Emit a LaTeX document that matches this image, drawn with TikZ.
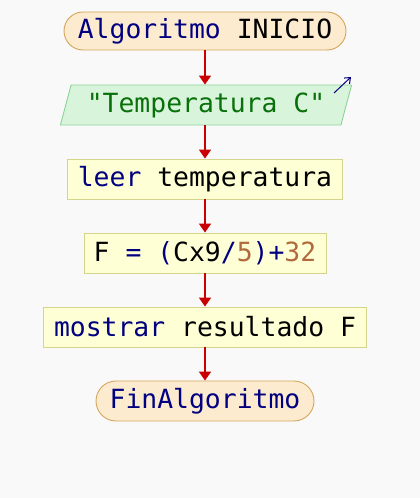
\documentclass[tikz,border=0pt]{standalone}
\usepackage{fontspec}
\setmonofont{DejaVu Sans Mono}
\usetikzlibrary{shapes.geometric,arrows.meta}
\definecolor{bgc}{HTML}{F9F9F9}
\definecolor{termfill}{HTML}{FDEBCF}
\definecolor{termdraw}{HTML}{D4A55A}
\definecolor{parafill}{HTML}{D8F5DC}
\definecolor{paradraw}{HTML}{8CD398}
\definecolor{paratext}{HTML}{0A700A}
\definecolor{boxfill}{HTML}{FFFFD6}
\definecolor{boxdraw}{HTML}{D4D48A}
\definecolor{kw}{HTML}{000080}
\definecolor{num}{HTML}{B06A3C}
\definecolor{arr}{HTML}{C80000}
\tikzset{
  x=1pt,y=1pt,
  every node/.style={font=\ttfamily\fontsize{26.4}{30}\selectfont, inner sep=0pt},
  term/.style={draw=termdraw, fill=termfill, rounded corners=19pt, line width=0.9pt},
  iobox/.style={shape=trapezium, trapezium left angle=69.4, trapezium right angle=110.6,
     trapezium stretches=true, draw=paradraw, fill=parafill, line width=0.9pt, text=paratext},
  procbox/.style={draw=boxdraw, fill=boxfill, line width=0.9pt},
  flow/.style={draw=arr, line width=1.8pt, -{Triangle[width=12pt,length=9pt]}},
  outarrow/.style={draw=kw, line width=1pt, -{Straight Barb[length=5pt,width=8pt]}}
}
\begin{document}
\begin{tikzpicture}
\fill[bgc] (0,0) rectangle (420,498);
\useasboundingbox (0,0) rectangle (420,498);
\node[term, minimum width=282, minimum height=38] (start) at (205,467) {\textcolor{kw}{Algoritmo} INICIO};
\node[iobox, minimum width=292, minimum height=40] (para) at (206,393) {"Temperatura C"};
\node[procbox, minimum width=275, minimum height=40] (leer) at (205,319) {\textcolor{kw}{leer} temperatura};
\node[procbox, minimum width=242, minimum height=40] (calc) at (205,245) {F \textcolor{kw}{= (}Cx9\textcolor{kw}{/}\textcolor{num}{5}\textcolor{kw}{)+}\textcolor{num}{32}};
\node[procbox, minimum width=323, minimum height=40] (show) at (205,171) {\textcolor{kw}{mostrar} resultado F};
\node[term, rounded corners=20pt, minimum width=218, minimum height=40] (fin) at (205,97) {\textcolor{kw}{FinAlgoritmo}};
\coordinate (oa) at (334,405);
\coordinate (ob) at (351,421);
\draw[outarrow] (oa) -- (ob);
\draw[flow] (start.south) -- (start.south |- para.north);
\draw[flow] (start.south |- para.south) -- (leer.north);
\draw[flow] (leer.south) -- (calc.north);
\draw[flow] (calc.south) -- (show.north);
\draw[flow] (show.south) -- (fin.north);
\end{tikzpicture}
\end{document}
